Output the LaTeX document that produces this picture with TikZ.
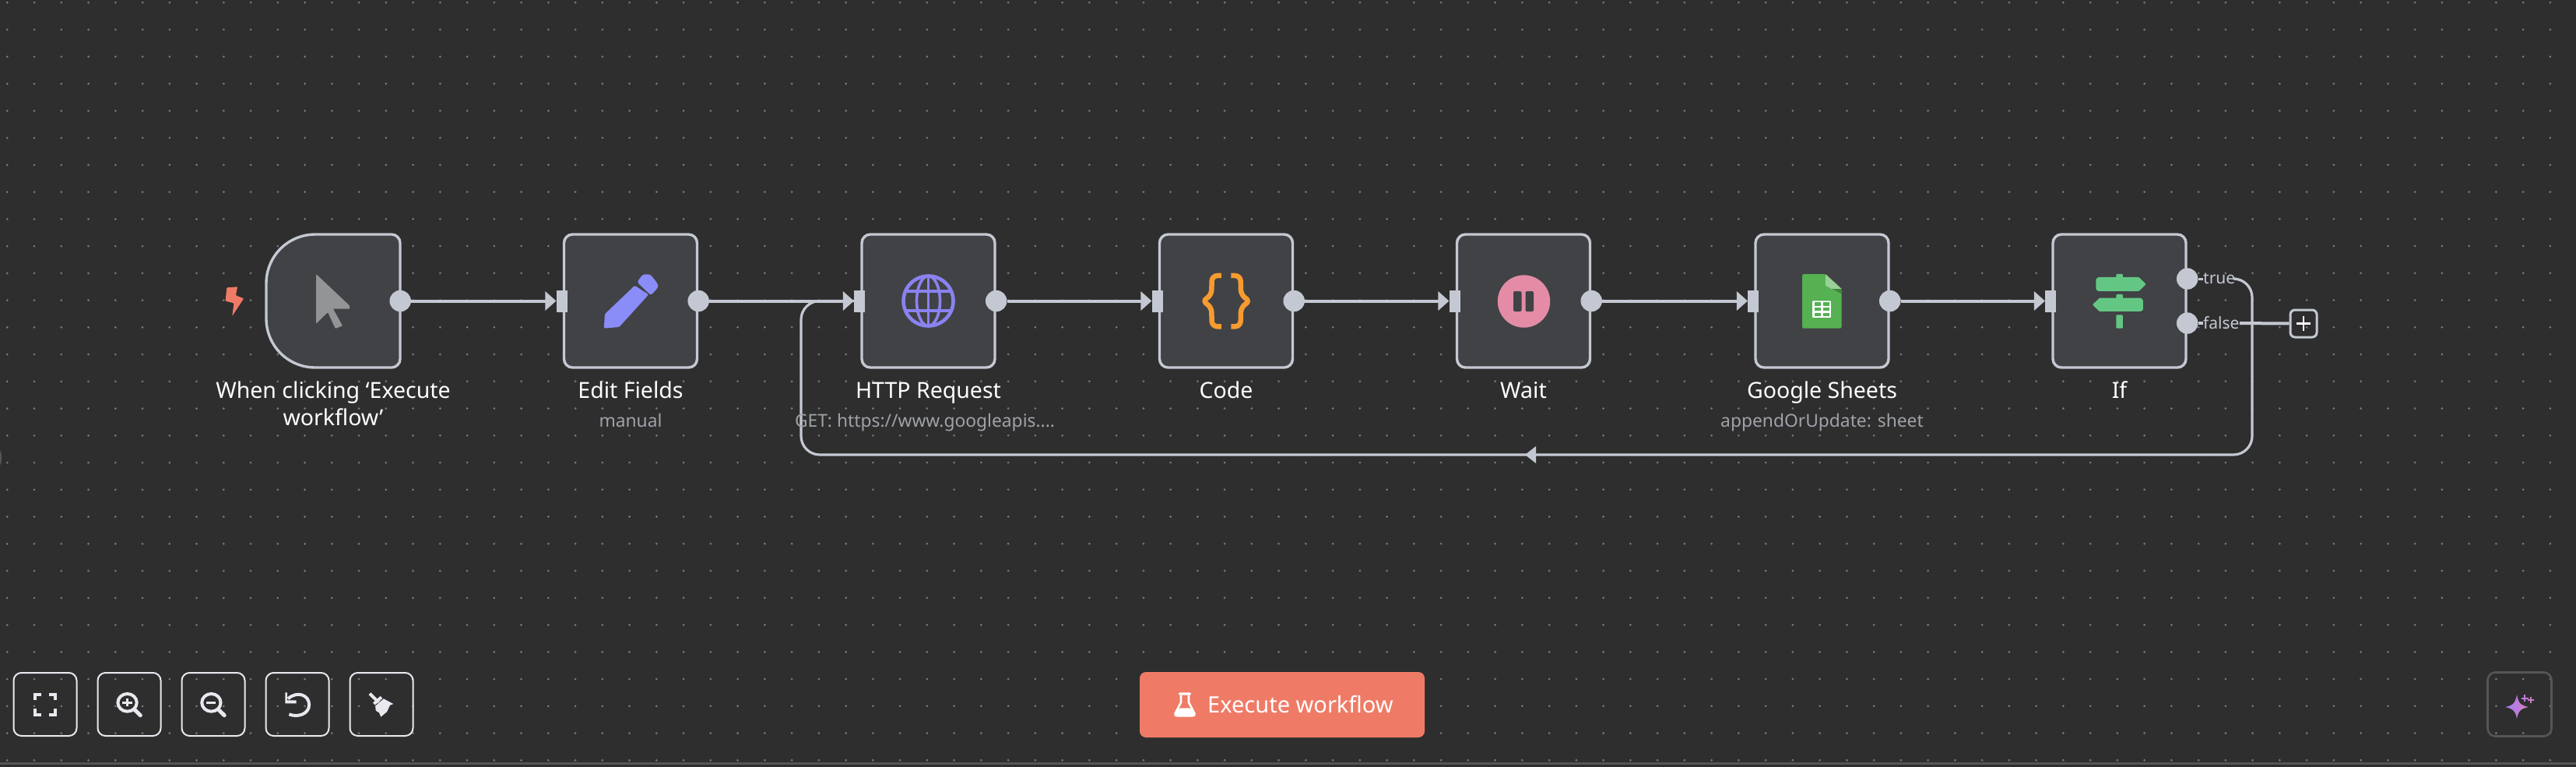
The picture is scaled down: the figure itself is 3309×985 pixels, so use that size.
\documentclass[tikz,border=0pt]{standalone}
\usepackage{fontspec}
\setmainfont{Noto Sans}
\usetikzlibrary{arrows.meta,shapes.geometric,calc}
\definecolor{bg}{HTML}{2E2E2E}
\definecolor{griddot}{HTML}{7A7A7A}
\definecolor{boxfill}{HTML}{414245}
\definecolor{boxline}{HTML}{C4C8D2}
\definecolor{subtxt}{HTML}{A0A2A9}
\definecolor{toolc}{HTML}{E8E9EF}
\definecolor{coral}{HTML}{EF7B66}
\definecolor{violet}{HTML}{8A8CF8}
\definecolor{globec}{HTML}{8A82F0}
\definecolor{orangec}{HTML}{F59B30}
\definecolor{pinkc}{HTML}{E48CA6}
\definecolor{greenc}{HTML}{63C783}
\definecolor{sheetc}{HTML}{55B152}
\definecolor{aiborder}{HTML}{565656}
\definecolor{cursorc}{HTML}{939496}
\definecolor{aione}{HTML}{A07DF5}
\definecolor{aitwo}{HTML}{D77DBE}
\definecolor{aithree}{HTML}{BE7DE1}
\definecolor{aifour}{HTML}{CD7DC3}
\tikzset{
  x=1pt,y=-1pt,
  nodebox/.style={draw=boxline,fill=boxfill,line width=3.4pt,rounded corners=11pt,minimum width=171pt,minimum height=171pt,inner sep=0pt},
  outport/.style={circle,fill=boxline,minimum size=27.5pt,inner sep=0pt},
  inport/.style={rectangle,fill=boxline,minimum width=14pt,minimum height=28pt,inner sep=0pt},
  conn/.style={draw=boxline,line width=4pt},
  connarrow/.style={conn,-{Triangle[length=14pt,width=24pt]}},
  thinconn/.style={draw=boxline,line width=3.2pt},
  title/.style={text=white,font=\fontsize{28.5}{35}\selectfont,align=center,inner sep=0pt},
  subtitle/.style={text=subtxt,font=\fontsize{22.8}{26}\selectfont,inner sep=0pt},
  tiny/.style={text=boxline,font=\fontsize{21}{24}\selectfont,inner sep=0pt},
  toolbtn/.style={draw=toolc,line width=2pt,rounded corners=10pt,minimum width=81pt,minimum height=81pt,inner sep=0pt},
}
\begin{document}
\begin{tikzpicture}
\useasboundingbox (0,0) rectangle (3309,985);
\fill[bg] (0,0) rectangle (3309,985);
% dotted canvas
\foreach \i in {0,...,94}{\foreach \j in {0,...,28}{
  \fill[griddot] ({9.3+34.75*\i},{3.3+34.75*\j}) circle[radius=1.5];}}
\fill[aiborder] (0,979) rectangle (3309,981.5);
\fill[aiborder] (0,588) ellipse[x radius=2,y radius=9];

% nodes
\path[draw=boxline,fill=boxfill,line width=3.4pt] (405,301) -- (503,301) .. controls (509,301) and (514,306) .. (514,312) -- (514,461) .. controls (514,467) and (509,472) .. (503,472) -- (405,472) .. controls (370,472) and (342,444) .. (342,409) -- (342,364) .. controls (342,329) and (370,301) .. (405,301) -- cycle;
\node[minimum width=172pt,minimum height=171pt,inner sep=0pt] (n1) at (428,386.5) {};
\node[nodebox] (n2) at (810,386.5) {};
\node[nodebox] (n3) at (1192.5,386.5) {};
\node[nodebox] (n4) at (1575,386.5) {};
\node[nodebox] (n5) at (1957,386.5) {};
\node[nodebox] (n6) at (2340.5,386.5) {};
\node[nodebox] (n7) at (2722.5,386.5) {};

% ports
\foreach \k in {1,...,6}{\node[outport] (o\k) at (n\k.east) {};}
\foreach \k in {2,...,7}{\node[inport,anchor=east] (i\k) at ([xshift=6pt]n\k.west) {};}
\node[outport] (ot) at ([yshift=28.5pt]n7.east) {};
\node[outport] (of) at ([yshift=-28.5pt]n7.east) {};

% labels for outputs
\node[tiny,anchor=west] (ltrue) at (2830,358) {true};
\node[tiny,anchor=west] (lfalse) at (2830,415) {false};
\node[draw=boxline,line width=3pt,rounded corners=6pt,minimum width=34pt,minimum height=35pt,inner sep=0pt] (plus) at (2959,415.5) {};
\draw[white,line width=2.8pt] (2959,406) -- (2959,425) (2950,415.5) -- (2968,415.5);

% connectors
\foreach \a/\b in {1/2,2/3,3/4,4/5,5/6,6/7}{\draw[connarrow] (o\a) -- (i\b);}
\coordinate (lr) at (2893,358);
\coordinate (br) at (2893,584);
\coordinate (bl) at (1029,584);
\coordinate (tl) at (1029,386.5);
\draw[thinconn,rounded corners=24pt] (ltrue.east) -- (lr) -- (br) -- (bl) -- (tl) -- (i3.west);
\draw[line width=3pt,draw=boxline] (ot) -- (ltrue);
\draw[conn] (of) -- (lfalse);
\draw[conn] (lfalse) -- (plus);
\coordinate (loopmid) at (1959,584);
\fill[boxline] (loopmid) -- ++(14,-11) -- ++(0,22) -- cycle;

% titles
\node[title,anchor=base] (t1) at (428,546) {When clicking ‘Execute\\workflow’};
\node[title,anchor=base] (t2) at (810,511) {Edit Fields};
\node[title,anchor=base] (t3) at (1192.5,511) {HTTP Request};
\node[title,anchor=base] (t4) at (1575,511) {Code};
\node[title,anchor=base] (t5) at (1957,511) {Wait};
\node[title,anchor=base] (t6) at (2340.5,511) {Google Sheets};
\node[title,anchor=base] (t7) at (2722.5,511) {If};
\node[subtitle,anchor=base] (s2) at (810,548) {manual};
\node[subtitle,anchor=base] (s3) at (1188,548) {GET: https://www.googleapis....};
\node[subtitle,anchor=base] (s6) at (2340.5,548) {appendOrUpdate: sheet};

% trigger bolt
\begin{scope}[shift={(250,270)},xscale=0.574,yscale=0.3333]
\fill[coral,rounded corners=1pt] (72,298) -- (96,295) -- (92,328) -- (110,340) -- (84,408) -- (88,358) -- (69,350) -- cycle;
% cursor
\fill[cursorc,rounded corners=1pt] (272,246) -- (347,368) -- (347,380) -- (310,380) -- (331,445) -- (315,456) -- (298,393) -- (272,437) -- cycle;
% pencil
\fill[violet,rounded corners=1.5pt] (918,400) -- (985,290) -- (1016,325) -- (950,450) -- (916,455) -- cycle;
\fill[violet,rounded corners=3pt] (990,277) -- (1003,247) -- (1020,247) -- (1037,285) -- (1037,298) -- (1021,328) -- cycle;
\end{scope}

% globe
\begin{scope}[shift={(1192.5,386.5)}]
\draw[globec,line width=4.6pt] (0,0) circle[radius=32];
\draw[globec,line width=3.6pt] (0,0) ellipse[x radius=15,y radius=32];
\draw[globec,line width=3.6pt] (0,-33) -- (0,33) (-29,-12.5) -- (29,-12.5) (-29,12.5) -- (29,12.5);
\end{scope}

% braces
\begin{scope}[shift={(1000,270)},xscale=0.574,yscale=0.3333]
\draw[orangec,line width=6.5pt,rounded corners=7pt] (991,252) -- (970,252) -- (969,328) -- (948,350) -- (969,372) -- (970,448) -- (991,448);
\draw[orangec,line width=6.5pt,rounded corners=7pt] (1013,252) -- (1034,252) -- (1035,328) -- (1056,350) -- (1035,372) -- (1034,448) -- (1013,448);
\end{scope}

% pause
\fill[pinkc] (1957.5,387) circle[radius=33.7];
\fill[boxfill,rounded corners=2pt] (1944,374) rectangle (1954.5,400);
\fill[boxfill,rounded corners=2pt] (1959.5,374) rectangle (1970,400);

% sheets + if icons
\begin{scope}[shift={(1800,270)},xscale=0.7653,yscale=0.3333]
\fill[sheetc,rounded corners=2pt] (673,246) -- (712,246) -- (739,303) -- (739,455) -- (673,455) -- cycle;
\fill[black!25!sheetc] (712,290) -- (739,303) -- (739,322) -- cycle;
\fill[sheetc!60!white] (712,246) -- (739,303) -- (722,303) -- (712,290) -- cycle;
\fill[white,rounded corners=1pt] (690,349) rectangle (721,414);
\foreach \c in {694,708}{\foreach \r in {355,375,395}{\fill[sheetc] (\c,\r) rectangle ++(10,13);}}
% if
\fill[greenc,rounded corners=1pt] (1200,246) rectangle (1211,262);
\fill[greenc,rounded corners=1pt] (1170,258) -- (1238,258) -- (1250,285) -- (1238,312) -- (1170,312) -- (1166,305) -- (1166,265) -- cycle;
\fill[greenc,rounded corners=1pt] (1200,324) rectangle (1211,342);
\fill[greenc,rounded corners=1pt] (1172,338) -- (1241,338) -- (1245,345) -- (1245,385) -- (1241,390) -- (1172,390) -- (1160,364) -- cycle;
\fill[greenc,rounded corners=1pt] (1200,403) rectangle (1211,455);
\end{scope}

% toolbar
\node[toolbtn] (b1) at (58,904.5) {};
\node[toolbtn] (b2) at (166,904.5) {};
\node[toolbtn] (b3) at (274,904.5) {};
\node[toolbtn] (b4) at (382,904.5) {};
\node[toolbtn] (b5) at (490,904.5) {};
\begin{scope}[shift={(0,840)},xscale=0.3571,yscale=0.3333]
\draw[toolc,line width=4pt] (126,177) -- (126,156) -- (149,156) (176,156) -- (199,156) -- (199,177) (199,210) -- (199,233) -- (176,233) (149,233) -- (126,233) -- (126,210);
% zoom in
\draw[toolc,line width=4pt] (458,187) ellipse[x radius=34,y radius=34];
\draw[toolc,line width=5pt,line cap=round] (484,214) -- (505,236);
\draw[toolc,line width=3pt] (458,172) -- (458,202) (441,187) -- (475,187);
% zoom out
\draw[toolc,line width=4pt] (760,187) ellipse[x radius=34,y radius=34];
\draw[toolc,line width=5pt,line cap=round] (786,214) -- (807,236);
\draw[toolc,line width=3pt] (743,187) -- (777,187);
% undo
\draw[toolc,line width=4pt] (1040,232) .. controls (1070,245) and (1112,232) .. (1112,195) .. controls (1112,158) and (1070,140) .. (1036,172);
\fill[toolc] (1026,148) -- (1033,148) -- (1033,178) -- (1066,178) -- (1066,190) -- (1026,190) -- cycle;
% broom
\draw[toolc,line width=4pt] (1330,152) -- (1362,186);
\draw[toolc,line width=4pt] (1345,192) -- (1372,166);
\fill[toolc] (1350,200) -- (1380,172) -- (1415,192) -- (1403,197) -- (1392,222) -- (1370,242) -- (1364,226) -- (1352,218) -- cycle;
\end{scope}

% execute
\node[fill=coral,rounded corners=8pt,minimum width=366pt,minimum height=84pt,inner sep=0pt] (exec) at (1647,905) {};
\node[text=white,font=\fontsize{29}{32}\selectfont,anchor=west,inner sep=0pt] (exect) at (1551,905) {Execute workflow};
\begin{scope}[shift={(1440,840)},scale=0.3333]
\fill[white,rounded corners=2pt] (222,148) rectangle (270,158);
\draw[white,line width=2.6pt] (231,158) -- (231,186) -- (207,232) (261,158) -- (261,186) -- (285,232);
\fill[white,rounded corners=3pt] (222,208) -- (270,208) -- (288,232) -- (284,242) -- (208,242) -- (204,232) -- cycle;
\end{scope}

% assistant
\node[draw=aiborder,line width=2.6pt,rounded corners=10pt,minimum width=82pt,minimum height=82pt,inner sep=0pt] (ai) at (3236.5,904.5) {};
\begin{scope}[shift={(3233,908)}]
\shade[left color=aione,right color=aitwo] (0,-16) .. controls (2,-5) and (5,-2) .. (15,0) .. controls (5,2) and (2,5) .. (0,15) .. controls (-2,5) and (-5,2) .. (-15,0) .. controls (-5,-2) and (-2,-5) .. (0,-16) -- cycle;
\draw[aithree,line width=2pt] (10,-16) -- (10,-7) (5.5,-11.5) -- (14.5,-11.5);
\draw[aifour,line width=2pt] (17.5,-13) -- (17.5,-5) (13.5,-9) -- (21.5,-9);
\end{scope}
\end{tikzpicture}
\end{document}
